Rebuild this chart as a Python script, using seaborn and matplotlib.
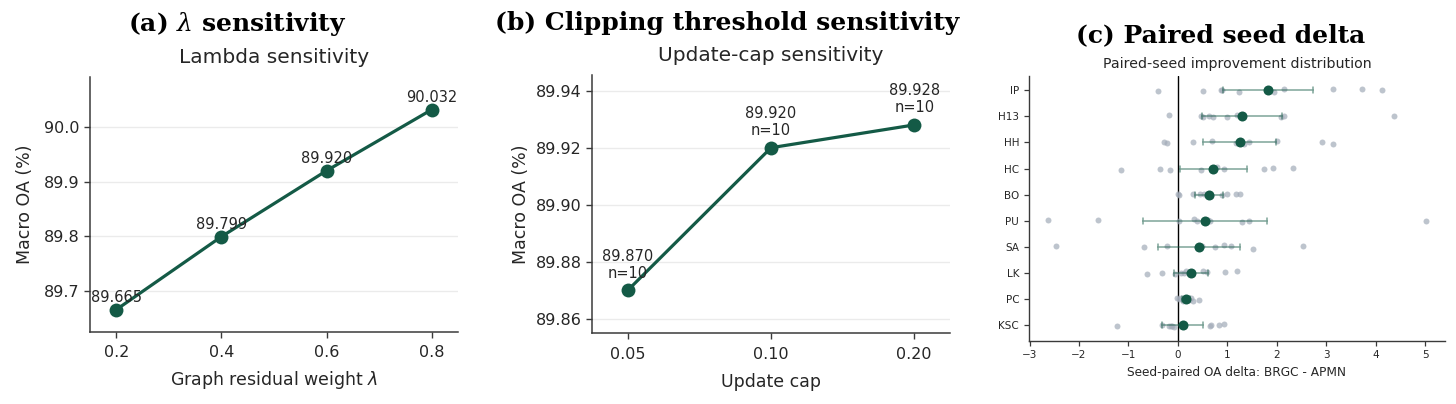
import numpy as np
import pandas as pd
import matplotlib
matplotlib.use("Agg")
import matplotlib.pyplot as plt
import seaborn as sns

# (a) graph residual weight sweep
lambda_values = [0.2, 0.4, 0.6, 0.8]
lambda_oa = [89.665, 89.799, 89.920, 90.032]

# (b) update cap sweep
cap_labels = ["0.05", "0.10", "0.20"]
cap_oa = [89.870, 89.920, 89.928]
cap_n = [10, 10, 10]

# (c) paired seed deltas BRGC - APMN, ten seeds per dataset
datasets = ["IP", "H13", "HH", "HC", "BO", "PU", "SA", "LK", "PC", "KSC"]
delta_ip = [-0.40, 0.51, 0.87, 0.90, 1.23, 1.95, 2.15, 3.14, 3.72, 4.13]
delta_h13 = [-0.17, 0.46, 0.51, 0.63, 0.72, 0.99, 1.20, 2.08, 2.14, 4.37]
delta_hh = [-0.28, -0.22, 0.30, 0.69, 1.17, 1.34, 1.44, 2.01, 2.91, 3.14]
delta_hc = [-1.16, -0.36, -0.16, 0.46, 0.70, 0.80, 0.93, 1.74, 1.93, 2.32]
delta_bo = [0.00, 0.03, 0.30, 0.45, 0.52, 0.68, 0.89, 1.00, 1.18, 1.25]
delta_pu = [-2.63, -1.61, 0.02, 0.32, 0.39, 0.60, 0.66, 1.30, 1.43, 5.02]
delta_sa = [-2.46, -0.68, -0.23, 0.38, 0.49, 0.75, 0.93, 1.07, 1.51, 2.54]
delta_lk = [-0.62, -0.32, -0.05, 0.07, 0.12, 0.16, 0.51, 0.58, 0.96, 1.19]
delta_pc = [-0.01, 0.03, 0.07, 0.10, 0.14, 0.18, 0.22, 0.26, 0.30, 0.43]
delta_ksc = [-1.24, -0.32, -0.18, -0.14, -0.11, -0.08, 0.64, 0.67, 0.83, 0.93]

deltas = [delta_ip, delta_h13, delta_hh, delta_hc, delta_bo,
          delta_pu, delta_sa, delta_lk, delta_pc, delta_ksc]

GREEN = "#145a46"
DARK = "#3a3a3a"
TXT = "#262626"

sns.set_style("ticks", {
    "axes.edgecolor": DARK,
    "xtick.color": DARK,
    "ytick.color": DARK,
    "text.color": TXT,
    "axes.labelcolor": TXT,
})
plt.rcParams["font.family"] = ["DejaVu Sans"]
plt.rcParams["axes.linewidth"] = 1.1


def style_axis(ax, labelsize=11.5):
    sns.despine(ax=ax)
    ax.tick_params(length=4, width=1.0, labelsize=labelsize, colors=DARK)
    ax.tick_params(labelcolor=TXT)


fig = plt.figure(figsize=(14.56, 4.04), dpi=100)

# ---------------- (a) ----------------
ax_a = fig.add_axes([0.0618, 0.1782, 0.2527, 0.6312])
df_a = pd.DataFrame({"lam": lambda_values, "oa": lambda_oa})
sns.lineplot(data=df_a, x="lam", y="oa", ax=ax_a, color=GREEN, linewidth=2.3,
             marker="o", markersize=10, markeredgecolor=GREEN, markeredgewidth=0)
for x, v in zip(lambda_values, lambda_oa):
    ax_a.annotate(f"{v:.3f}", (x, v), xytext=(0, 3.5), textcoords="offset points",
                  ha="center", va="bottom", fontsize=10.5, color=TXT)
ax_a.set_xlim(0.15, 0.85)
ax_a.set_ylim(min(lambda_oa) - 0.041, max(lambda_oa) + 0.06)
ax_a.set_xticks(lambda_values)
ax_a.set_yticks([89.7, 89.8, 89.9, 90.0])
ax_a.yaxis.grid(True, color="#ebebeb", linewidth=1.0)
ax_a.set_axisbelow(True)
ax_a.set_xlabel(r"Graph residual weight $\lambda$", fontsize=12.5, labelpad=7)
ax_a.set_ylabel("Macro OA (%)", fontsize=12.5, labelpad=7)
ax_a.set_title("Lambda sensitivity", fontsize=14.5, pad=10, color=TXT)
style_axis(ax_a)
ax_a.tick_params(axis="x", pad=5)

# ---------------- (b) ----------------
ax_b = fig.add_axes([0.4066, 0.1757, 0.2459, 0.6386])
df_b = pd.DataFrame({"cap": cap_labels, "oa": cap_oa})
sns.pointplot(data=df_b, x="cap", y="oa", order=cap_labels, ax=ax_b, color=GREEN,
              errorbar=None, markers="o", markersize=10, linewidth=2.3,
              markeredgewidth=0)
for i, (v, n) in enumerate(zip(cap_oa, cap_n)):
    ax_b.annotate(f"{v:.3f}\nn={n}", (i, v), xytext=(0, 7), textcoords="offset points",
                  ha="center", va="bottom", fontsize=10.5, color=TXT, linespacing=1.15)
ax_b.set_xlim(-0.25, 2.25)
ax_b.set_ylim(89.855, 89.9455)
ax_b.set_yticks([89.86, 89.88, 89.90, 89.92, 89.94])
ax_b.set_yticklabels([f"{t:.2f}" for t in [89.86, 89.88, 89.90, 89.92, 89.94]])
ax_b.yaxis.grid(True, color="#ebebeb", linewidth=1.0)
ax_b.set_axisbelow(True)
ax_b.set_xlabel("Update cap", fontsize=12.5, labelpad=8)
ax_b.set_ylabel("Macro OA (%)", fontsize=12.5)
ax_b.set_title("Update-cap sensitivity", fontsize=14.5, pad=10, color=TXT)
style_axis(ax_b)
ax_b.tick_params(axis="x", pad=6)

# ---------------- (c) ----------------
ax_c = fig.add_axes([0.7067, 0.1567, 0.2857, 0.6552])
df_c = pd.DataFrame({
    "dataset": np.repeat(datasets, [len(d) for d in deltas]),
    "delta": np.concatenate(deltas),
})
ax_c.axvline(0, color="black", linewidth=1.0, zorder=0)
np.random.seed(3)
sns.stripplot(data=df_c, x="delta", y="dataset", order=datasets, ax=ax_c,
              color="#a2abb8", alpha=0.7, size=4.3, jitter=0.07, linewidth=0, zorder=1)
sns.pointplot(data=df_c, x="delta", y="dataset", order=datasets, ax=ax_c,
              color=GREEN, errorbar=("se", 1.96), linestyle="none", markers="o",
              markersize=7.2, markeredgewidth=0, capsize=0.23, zorder=4,
              err_kws={"color": GREEN, "alpha": 0.55, "linewidth": 1.1, "zorder": 3})
ax_c.set_ylim(9.6, -0.55)
ax_c.set_xticks(range(-3, 6))
ax_c.set_xlabel("Seed-paired OA delta: BRGC - APMN", fontsize=8.7)
ax_c.set_ylabel("")
ax_c.set_title("Paired-seed improvement distribution", fontsize=10.2, pad=6, color=TXT)
style_axis(ax_c, labelsize=7.5)
ax_c.tick_params(length=3.5, width=0.9)
for s in ax_c.spines.values():
    s.set_linewidth(1.0)

# panel headings
fig.text(237 / 1456, 1 - 24 / 404, r"(a) $\lambda$ sensitivity", ha="center", va="center",
         fontsize=18, fontweight="bold", family="DejaVu Serif",
         math_fontfamily="dejavuserif", color="black")
fig.text(727 / 1456, 1 - 23 / 404, "(b) Clipping threshold sensitivity", ha="center",
         va="center", fontsize=18, fontweight="bold", family="DejaVu Serif", color="black")
fig.text(1221 / 1456, 1 - 35 / 404, "(c) Paired seed delta", ha="center", va="center",
         fontsize=18, fontweight="bold", family="DejaVu Serif", color="black")

fig.savefig("out.png", dpi=100)
